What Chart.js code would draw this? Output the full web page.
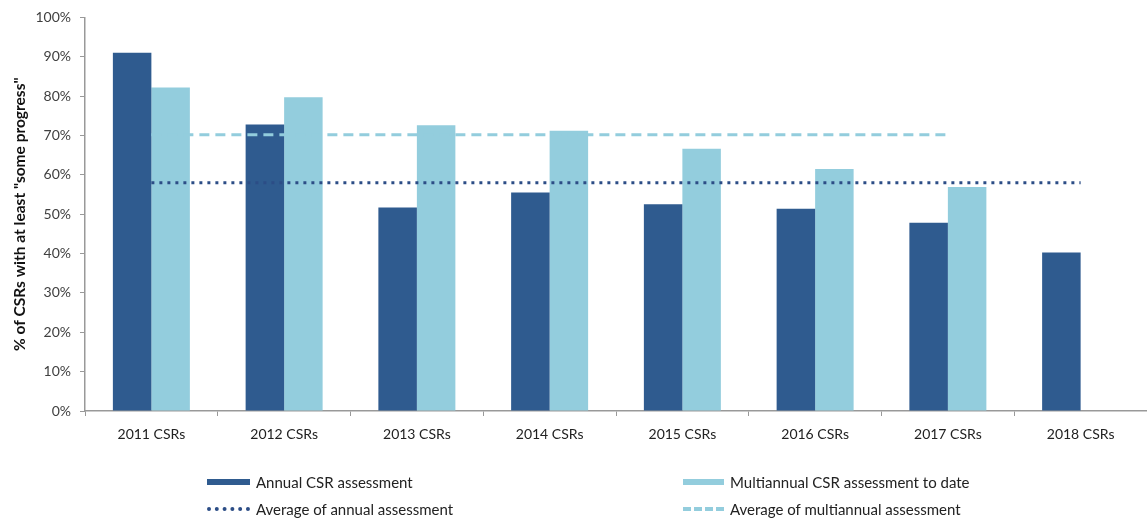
<!DOCTYPE html>
<html lang="en">
<head>
  <meta charset="UTF-8">
  <title>CSR progress</title>
  <script src="https://cdn.jsdelivr.net/npm/chart.js"></script>
  <style>
    body {
      margin: 0;
      background: #ffffff;
      font-family: Lato, Arial, sans-serif;
    }

    #wrap {
      position: relative;
      width: 1147px;
      height: 520px;
    }

    .leg {
      position: absolute;
      font-size: 15px;
      color: #222;
      display: flex;
      align-items: center;
      height: 18px;
    }

    .sw {
      width: 43px;
      margin-right: 6px;
    }
  </style>
</head>
<body>
  <div id="wrap">
    <canvas id="grafico" width="1147" height="520"></canvas>

    <div class="leg" style="left:207px; top:473px;">
      <span class="sw" style="height:6px; background:#2F5B8F;"></span>Annual CSR assessment
    </div>
    <div class="leg" style="left:683px; top:473px;">
      <span class="sw" style="width:41px; height:6px; background:#93CDDD;"></span>Multiannual CSR assessment to date
    </div>
    <div class="leg" style="left:207px; top:500px;">
      <span class="sw" style="border-top:4px dotted #2C4D86;"></span>Average of annual assessment
    </div>
    <div class="leg" style="left:683px; top:500px;">
      <span class="sw" style="width:41px; border-top:4px dashed #93CDDD;"></span>Average of multiannual assessment
    </div>
  </div>

  <script>
    const categorias = ['2011 CSRs', '2012 CSRs', '2013 CSRs', '2014 CSRs', '2015 CSRs', '2016 CSRs', '2017 CSRs', '2018 CSRs'];
    const anual = [91, 72.8, 51.7, 55.5, 52.5, 51.4, 47.8, 40.3];
    const plurianual = [82.2, 79.7, 72.6, 71.2, 66.6, 61.5, 56.9, null];
    const mediaAnual = [58, 58, 58, 58, 58, 58, 58, 58];
    const mediaPlurianual = [70.2, 70.2, 70.2, 70.2, 70.2, 70.2, 70.2, null];

    const fonte = 'Lato, Arial, sans-serif';

    const ctx = document.getElementById('grafico').getContext('2d');
    new Chart(ctx, {
      type: 'bar',
      data: {
        labels: categorias,
        datasets: [
          {
            label: 'Average of annual assessment',
            type: 'line',
            data: mediaAnual,
            borderColor: '#2C4D86',
            borderWidth: 3,
            borderDash: [3, 5],
            pointRadius: 0,
            fill: false,
            order: 0
          },
          {
            label: 'Average of multiannual assessment',
            type: 'line',
            data: mediaPlurianual,
            borderColor: '#93CDDD',
            borderWidth: 3,
            borderDash: [10, 6],
            pointRadius: 0,
            fill: false,
            order: 0
          },
          {
            label: 'Annual CSR assessment',
            data: anual,
            backgroundColor: '#2F5B8F',
            categoryPercentage: 0.58,
            barPercentage: 1.0,
            order: 1
          },
          {
            label: 'Multiannual CSR assessment to date',
            data: plurianual,
            backgroundColor: '#93CDDD',
            categoryPercentage: 0.58,
            barPercentage: 1.0,
            order: 1
          }
        ]
      },
      options: {
        responsive: false,
        animation: false,
        layout: { padding: { top: 17, left: 0, right: 0, bottom: 0 } },
        plugins: {
          legend: { display: false },
          tooltip: { enabled: false }
        },
        scales: {
          x: {
            offset: true,
            grid: {
              offset: true,
              drawOnChartArea: false,
              tickLength: 5,
              color: '#999'
            },
            border: { color: '#999', width: 1.5 },
            ticks: {
              color: '#222',
              font: { family: fonte, size: 14 },
              padding: 10
            },
            afterFit: function (s) { s.height = 109; }
          },
          y: {
            min: 0,
            max: 100,
            grid: {
              drawOnChartArea: false,
              tickLength: 5,
              color: '#999'
            },
            border: { color: '#999', width: 1.5 },
            ticks: {
              stepSize: 10,
              color: '#404040',
              font: { family: fonte, size: 14 },
              padding: 9,
              callback: function (v) { return v + '%'; }
            },
            title: {
              display: true,
              text: '% of CSRs with at least "some progress"',
              color: '#111',
              font: { family: fonte, size: 15.5, weight: 'bold' },
              padding: { top: 11, bottom: 0 }
            },
            afterFit: function (s) { s.width = 85; }
          }
        }
      }
    });
  </script>
</body>
</html>
